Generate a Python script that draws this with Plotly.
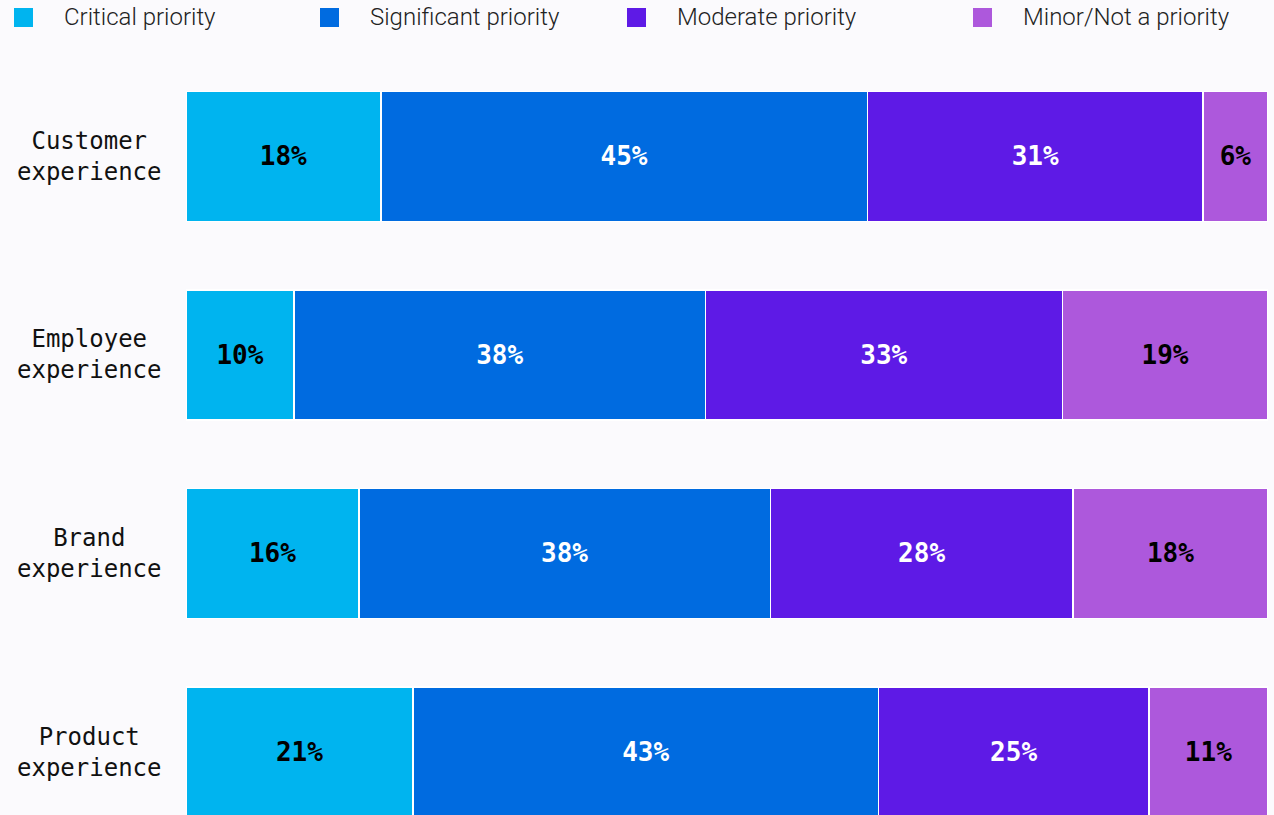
import plotly.graph_objects as go

# Survey areas (top to bottom) and the share of respondents per priority level
areas = ["Customer experience", "Employee experience", "Brand experience", "Product experience"]
area_lines = [["Customer", "experience"], ["Employee", "experience"],
              ["Brand", "experience"], ["Product", "experience"]]

levels = ["Critical priority", "Significant priority", "Moderate priority", "Minor/Not a priority"]
critical = [18, 10, 16, 21]
significant = [45, 38, 38, 43]
moderate = [31, 33, 28, 25]
minor = [6, 19, 18, 11]

series = [critical, significant, moderate, minor]
colors = ["#00B4EF", "#006BE0", "#5E1AE6", "#AD58DC"]
text_colors = ["#000000", "#FFFFFF", "#FFFFFF", "#000000"]
legend_x_px = [14, 320, 627, 973]

W, H = 1274, 815
L, R, T, B = 186, 6, 57, 0
plot_w = W - L - R
plot_h = H - T - B
BG = "#FBFAFD"

fig = go.Figure()
for name, vals, col, tcol in zip(levels, series, colors, text_colors):
    fig.add_trace(go.Bar(
        y=list(range(len(areas))),
        x=vals,
        orientation="h",
        name=name,
        marker=dict(color=col, line=dict(color="#FFFFFF", width=1.5)),
        text=[f"{v}%" for v in vals],
        textposition="inside",
        insidetextanchor="middle",
        textangle=0,
        textfont=dict(family="DejaVu Sans Mono", size=26, color=tcol, weight="bold"),
        width=0.655,
        showlegend=False,
        hoverinfo="skip",
    ))


def px_x(p):
    return (p - L) / plot_w


def px_y(p):
    return (H - B - p) / plot_h


shapes = []
annotations = []
# Legend row across the top
for name, col, lx in zip(levels, colors, legend_x_px):
    shapes.append(dict(type="rect", xref="paper", yref="paper",
                       x0=px_x(lx), x1=px_x(lx + 19),
                       y0=px_y(27), y1=px_y(8),
                       fillcolor=col, line=dict(width=0)))
    annotations.append(dict(xref="paper", yref="paper", x=px_x(lx + 48), y=px_y(17),
                            xanchor="left", yanchor="middle", showarrow=False,
                            text=name,
                            font=dict(family="Roboto", size=24, color="#222222", weight=300)))

# Category labels, centred over two lines
for i, lines in enumerate(area_lines):
    annotations.append(dict(xref="paper", yref="y", x=px_x(89), y=i,
                            xanchor="center", yanchor="middle", showarrow=False,
                            align="center", text="<br>".join(lines),
                            font=dict(family="DejaVu Sans Mono", size=24, color="#111111")))

fig.update_layout(
    width=W, height=H,
    barmode="stack",
    margin=dict(l=L, r=R, t=T, b=B, pad=0),
    paper_bgcolor=BG, plot_bgcolor=BG,
    xaxis=dict(range=[0, 100], visible=False, fixedrange=True),
    yaxis=dict(range=[3.317, -0.5], visible=False, fixedrange=True),
    shapes=shapes,
    annotations=annotations,
    uniformtext=dict(mode=False),
)

fig.write_html("out.html")
